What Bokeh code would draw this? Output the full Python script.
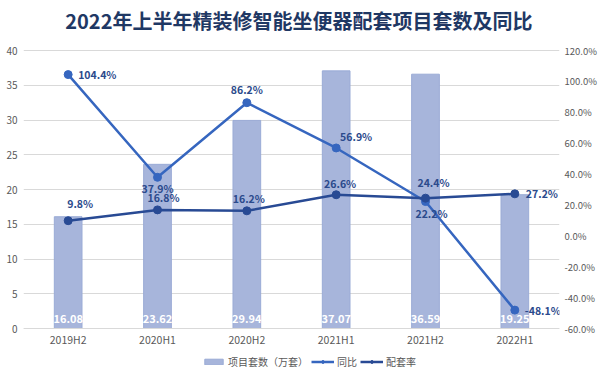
from bokeh.plotting import figure
from bokeh.models import (Range1d, LinearAxis, FixedTicker, PrintfTickFormatter,
                          ColumnDataSource, Legend, LegendItem, FactorRange)
from bokeh.core.properties import value
from bokeh.embed import file_html
from bokeh.resources import INLINE

# ---- data ----
categories = ["2019H2", "2020H1", "2020H2", "2021H1", "2021H2", "2022H1"]
projects = [16.08, 23.62, 29.94, 37.07, 36.59, 19.25]      # 项目套数（万套）
yoy = [104.4, 37.9, 86.2, 56.9, 22.2, -48.1]               # 同比 (%)
rate = [9.8, 16.8, 16.2, 26.6, 24.4, 27.2]                 # 配套率 (%)
left_ticks = [0, 5, 10, 15, 20, 25, 30, 35, 40]
right_ticks = [-60, -40, -20, 0, 20, 40, 60, 80, 100, 120]
title_text = "2022年上半年精装修智能坐便器配套项目套数及同比"

# label placement (screen px offsets) -- style only
yoy_off = [(10, 0, "center_left"), (0, 11, "center"), (0, -13, "center"),
           (20, -11, "center"), (6, 12, "center"), (10, 0, "center_left")]
rate_off = [(12, -17, "center"), (6, -12, "center"), (2, -12, "center"),
            (4, -11, "center"), (8, -16, "center"), (11, 0, "center_left")]

CJK = "Noto Sans CJK SC"
BAR = "#A7B5DB"
YOY_C = "#3666BF"
RATE_C = "#284A94"
LBL_C = "#2B4A8C"

# frame covers the page from y=8 to the bottom; the value ranges are
# extended so 0..40 (left) and -60..120 (right) occupy 278 px (y 50..328)
FW, FH, PLOT_H, ABOVE, BELOW = 536, 370, 278, 42, 50
L_LO, L_HI = -40 * BELOW / PLOT_H, 40 + 40 * ABOVE / PLOT_H
R_LO, R_HI = -60 - 180 * BELOW / PLOT_H, 120 + 180 * ABOVE / PLOT_H
p = figure(frame_width=FW, frame_height=FH, x_range=FactorRange(*categories),
           y_range=Range1d(L_LO, L_HI), output_backend="svg",
           toolbar_location=None, min_border_left=23, min_border_right=41,
           min_border_top=8, min_border_bottom=0)
p.title.visible = False
p.extra_y_ranges = {"pct": Range1d(R_LO, R_HI)}
p.outline_line_color = None
p.background_fill_color = "white"
p.border_fill_color = "white"

# title (drawn inside the extended frame)
p.text(x=["2020H2"], y=[40], text=[title_text], x_offset=52, y_offset=-30,
       text_align="center", text_baseline="middle", text_font=value(CJK),
       text_font_size="20px", text_font_style="bold", text_color="#1F3864")

# grid
p.xgrid.grid_line_color = None
p.ygrid.grid_line_color = "#D9D9D9"
p.ygrid.ticker = FixedTicker(ticks=left_ticks)

# axes
for ax in [p.yaxis[0], p.xaxis[0]]:
    ax.major_tick_line_color = None
    ax.minor_tick_line_color = None
    ax.major_tick_out = 0
    ax.minor_tick_out = 0
    ax.major_label_text_color = "#595959"
    ax.major_label_text_font = CJK
p.yaxis[0].axis_line_color = None
p.yaxis[0].ticker = FixedTicker(ticks=left_ticks)
p.yaxis[0].major_label_text_font_size = "10px"
p.yaxis[0].major_label_standoff = 6
p.xaxis[0].axis_line_color = "#D9D9D9"
p.xaxis[0].major_label_text_font_size = "10.5px"
p.xaxis[0].major_label_standoff = 3
p.xaxis[0].fixed_location = 0

ra = LinearAxis(y_range_name="pct", ticker=FixedTicker(ticks=right_ticks),
                formatter=PrintfTickFormatter(format="%.1f%%"))
ra.axis_line_color = None
ra.major_tick_line_color = None
ra.minor_tick_line_color = None
ra.major_tick_out = 0
ra.minor_tick_out = 0
ra.major_label_text_color = "#595959"
ra.major_label_text_font = CJK
ra.major_label_text_font_size = "9.5px"
ra.major_label_standoff = 5
p.add_layout(ra, "right")

# bars
src = ColumnDataSource(dict(cat=categories, projects=projects,
                            lbl=[f"{v:.2f}" for v in projects]))
bars = p.vbar(x="cat", top="projects", bottom=0, width=0.31, source=src,
              fill_color=BAR, line_color="#9AABD6")
p.text(x="cat", y=0, text="lbl", source=src, text_align="center",
       text_baseline="middle", y_offset=-10, text_color="white",
       text_font=value(CJK), text_font_size="11px", text_font_style="bold")

# lines
yl = p.line(categories, yoy, y_range_name="pct", line_color=YOY_C, line_width=2.5)
ys = p.scatter(categories, yoy, y_range_name="pct", size=8, fill_color=YOY_C,
               line_color=YOY_C)
rl = p.line(categories, rate, y_range_name="pct", line_color=RATE_C, line_width=2.5)
rs = p.scatter(categories, rate, y_range_name="pct", size=8, fill_color=RATE_C,
               line_color=RATE_C)

def add_labels(vals, offs):
    for c, v, (dx, dy, anc) in zip(categories, vals, offs):
        p.text(x=[c], y=[v], text=[f"{v:.1f}%"], y_range_name="pct",
               x_offset=dx, y_offset=dy, anchor=anc, text_color=LBL_C,
               text_font=value(CJK), text_font_size="10.5px",
               text_font_style="bold")

add_labels(yoy, yoy_off)
add_labels(rate, rate_off)

legend = Legend(items=[
    LegendItem(label="项目套数（万套）", renderers=[bars]),
    LegendItem(label="同比", renderers=[yl, ys]),
    LegendItem(label="配套率", renderers=[rl, rs]),
], orientation="horizontal", location=(179, 9))
legend.border_line_color = None
legend.background_fill_alpha = 0
legend.label_text_font = CJK
legend.label_text_font_size = "10px"
legend.label_text_color = "#595959"
legend.label_height = 14
legend.glyph_width = 23
legend.glyph_height = 7
legend.spacing = 3
legend.padding = 0
legend.margin = 0
legend.label_standoff = 3
p.add_layout(legend, "center")

open("out.html", "w").write(file_html(p, INLINE))
